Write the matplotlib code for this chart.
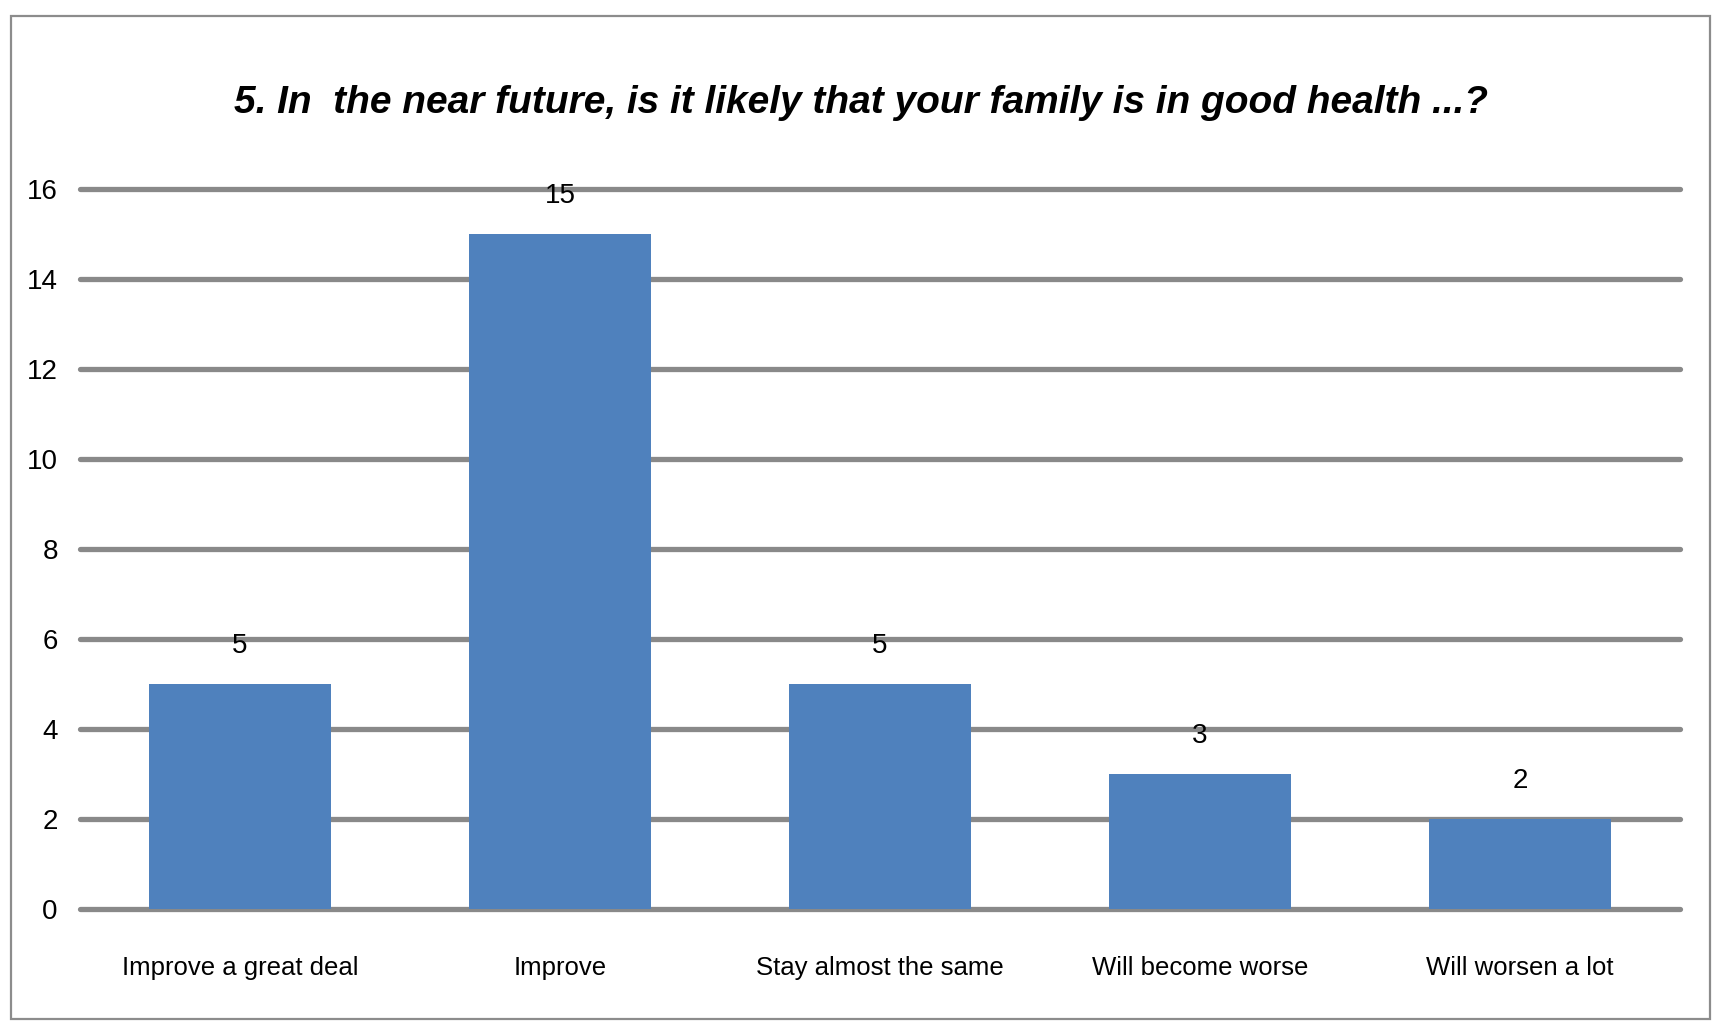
import matplotlib
matplotlib.use("Agg")
import matplotlib.pyplot as plt
from matplotlib.patches import Rectangle

categories = ["Improve a great deal", "Improve", "Stay almost the same", "Will become worse", "Will worsen a lot"]
counts = [5, 15, 5, 3, 2]
y_ticks = [0, 2, 4, 6, 8, 10, 12, 14, 16]
title = "5. In  the near future, is it likely that your family is in good health ...?"

plt.rcParams["font.family"] = ["Liberation Sans", "DejaVu Sans"]

fig = plt.figure(figsize=(17.22, 10.35), dpi=100)
# outer chart frame
fig.patches.append(Rectangle((11 / 1722, 1 - 1019 / 1035), 1699 / 1722, 1003 / 1035,
                             transform=fig.transFigure, fill=False, edgecolor="#8c8c8c", linewidth=1.6))
ax = fig.add_axes([80 / 1722, 1 - 909 / 1035, 1600 / 1722, 720 / 1035])

x = list(range(len(categories)))
ax.bar(x, counts, width=0.57, color="#4f81bd", zorder=2)
for yv in y_ticks:
    ax.axhline(yv, color="#898989", linewidth=3.8, solid_capstyle="round", zorder=1, clip_on=False)
for xi, v in zip(x, counts):
    ax.annotate(str(v), (xi, v), xytext=(0, 38), textcoords="offset pixels",
                ha="center", va="center", fontsize=20, color="black")

ax.set_xlim(-0.5, len(categories) - 0.5)
ax.set_ylim(0, 16)
ax.set_yticks(y_ticks)
ax.set_yticklabels([str(t) for t in y_ticks], fontsize=20)
ax.set_xticks(x)
ax.set_xticklabels(categories, fontsize=18.5)
ax.tick_params(axis="both", length=0)
ax.tick_params(axis="y", pad=16)
ax.tick_params(axis="x", pad=34)
for s in ax.spines.values():
    s.set_visible(False)

fig.text(0.5, 1 - 103 / 1035, title, ha="center", va="center", fontsize=28,
         fontweight="bold", fontstyle="italic")

fig.savefig("out.png", dpi=100)
